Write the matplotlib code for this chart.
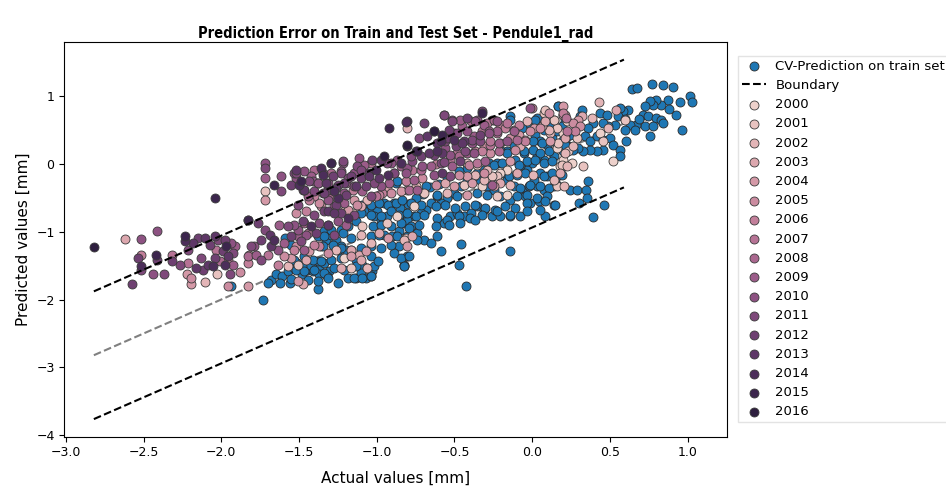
import matplotlib.pyplot as plt
import seaborn as sns

# train set (cross-validated predictions)
train_pts = [
    (-1.94, -1.80), (-1.73, -2.00), (-1.68, -1.71), (-1.65, -1.63), (-1.61, -1.66), (-1.62, -1.76),
    (-1.56, -1.76), (-1.57, -1.58), (-1.53, -1.53), (-1.51, -1.46), (-1.48, -1.63), (-1.45, -1.56),
    (-1.41, -1.58), (-1.37, -1.53), (-1.38, -1.44), (-1.34, -1.46), (-1.31, -1.58), (-1.32, -1.66),
    (-1.37, -1.63), (-1.43, -1.49), (-1.48, -1.51), (-1.38, -1.84), (-1.55, -1.70), (-1.70, -1.75),
    (-1.59, -1.10), (-1.55, -1.20),
    (-1.359, -1.216), (-1.327, -1.118), (-1.295, -1.044), (-1.263, -1.118), (-1.231, -1.216),
    (-1.252, -1.265), (-1.199, -1.265), (-1.167, -1.338), (-1.135, -1.412), (-1.092, -1.485),
    (-1.06, -1.534), (-1.028, -1.583), (-1.017, -1.51), (-1.188, -1.681), (-1.135, -1.681),
    (-1.103, -1.608), (-1.071, -1.681), (-1.039, -1.657), (-1.381, -1.069), (-1.338, -0.995),
    (-1.295, -0.971), (-1.316, -0.897), (-1.092, -0.627), (-1.06, -0.701), (-1.028, -0.652),
    (-0.996, -0.701), (-1.017, -0.774), (-0.975, -0.823), (-0.932, -0.774), (-0.953, -0.578),
    (-0.89, -0.578), (-0.878, -0.284), (-0.825, -0.872), (-0.857, -0.995), (-0.804, -1.069),
    (-0.9, -1.069), (-0.953, -1.044), (-0.857, -1.216), (-0.825, -1.51), (-0.89, -1.314),
    (-1.231, -0.971), (-1.188, -0.922),
    (-0.141, 0.696), (-0.034, 0.598), (0.03, 0.672), (0.073, 0.5), (0.116, 0.598), (0.169, 0.843),
    (0.201, 0.72), (0.212, 0.622), (0.019, 0.426), (0.051, 0.328), (0.094, 0.279), (0.126, 0.377),
    (0.158, 0.255), (0.19, 0.328), (0.222, 0.402), (0.201, 0.181), (0.137, 0.108), (0.073, 0.059),
    (0.03, 0.108), (-0.002, 0.01), (-0.034, -0.088), (-0.077, -0.04), (-0.109, 0.059), (-0.055, 0.157),
    (-0.12, 0.255), (-0.162, 0.181), (-0.205, 0.206), (-0.226, 0.01), (-0.194, -0.138), (-0.162, -0.236),
    (-0.12, -0.334), (-0.066, -0.383), (-0.023, -0.334), (0.03, -0.334), (0.073, -0.383), (0.137, -0.334),
    (0.158, -0.187), (0.094, -0.187), (0.051, -0.138), (0.009, -0.236), (-0.045, -0.48), (-0.013, -0.579),
    (0.041, -0.554), (0.084, -0.775), (0.137, -0.603), (-0.141, -0.53), (-0.205, -0.48), (-0.248, -0.383),
    (-0.29, -0.334), (-0.333, -0.236), (-0.376, -0.187), (-0.419, -0.236), (-0.461, -0.334), (-0.504, -0.432),
    (-0.547, -0.505), (-0.59, -0.579), (-0.611, -0.48), (-0.654, -0.579), (-0.686, -0.677), (-0.718, -0.726),
    (-0.761, -0.775), (-0.803, -0.824), (-0.825, -0.726), (-0.782, -0.922), (-0.739, -1.02), (-0.696, -1.118),
    (-0.654, -1.167), (-0.611, -1.069), (-0.568, -0.873), (-0.526, -0.775), (-0.483, -0.726), (-0.44, -0.775),
    (-0.397, -0.726), (-0.355, -0.628), (-0.312, -0.677), (-0.258, -0.775), (-0.205, -0.775), (-0.141, -0.775),
    (-0.077, -0.775), (-0.461, -1.19), (-0.59, -1.29), (-0.472, -1.485), (-0.429, -1.804), (-0.141, -1.29),
    (-0.825, -1.485), (-0.803, -1.36), (-0.355, -0.138), (-0.312, -0.088), (-0.28, 0.01), (-0.419, -0.064),
    (-0.47, -0.113), (-0.55, -0.2), (-0.6, -0.3), (-0.66, -0.35), (-0.7, -0.45), (-0.75, -0.5),
    (-0.8, -0.6), (-0.85, -0.65),
    (0.645, 1.098), (0.675, 1.112), (0.773, 1.176), (0.841, 1.161), (0.905, 1.127), (1.012, 1.0),
    (1.029, 0.907), (0.965, 0.5), (0.927, 0.72), (0.873, 0.931), (0.831, 0.867), (0.799, 0.931),
    (0.777, 0.867), (0.756, 0.916), (0.724, 0.843), (0.713, 0.72), (0.745, 0.696), (0.799, 0.671),
    (0.831, 0.647), (0.841, 0.598), (0.756, 0.402), (0.724, 0.549), (0.67, 0.573), (0.628, 0.573),
    (0.617, 0.794), (0.585, 0.769), (0.564, 0.818), (0.553, 0.696), (0.596, 0.5), (0.532, 0.573),
    (0.489, 0.549), (0.457, 0.598), (0.435, 0.745), (0.478, 0.72), (0.393, 0.598), (0.361, 0.524),
    (0.318, 0.794), (0.307, 0.696), (0.339, 0.402), (0.371, 0.328), (0.414, 0.402), (0.457, 0.353),
    (0.5, 0.377), (0.521, 0.279), (0.457, 0.206), (0.414, 0.181), (0.371, 0.206), (0.329, 0.181),
    (0.297, 0.23), (0.264, 0.206), (0.232, 0.255), (0.211, 0.353), (0.243, 0.426), (0.286, 0.549),
    (0.606, 0.328), (0.564, 0.206), (0.564, 0.108), (0.205, -0.04), (0.361, -0.26), (0.243, -0.383),
    (0.286, -0.383), (0.346, -0.383), (0.35, -0.505), (0.303, -0.579), (0.461, -0.603), (0.388, -0.785),
    (0.66, 0.5), (0.69, 0.65), (0.78, 0.55), (0.88, 0.8), (0.95, 0.9), (0.60, 0.65),
    # denser middle band
    (-0.867, -0.26), (-0.686, -0.333), (-1.092, -0.603), (-1.038, -0.603), (-0.985, -0.578), (-0.931, -0.603),
    (-0.878, -0.578), (-0.835, -0.529), (-0.782, -0.578), (-0.718, -0.603), (-1.102, -0.725), (-1.038, -0.75),
    (-0.974, -0.774), (-0.91, -0.701), (-0.857, -0.75), (-0.803, -0.725), (-0.75, -0.774), (-0.696, -0.75),
    (-1.134, -0.848), (-1.027, -0.921), (-0.974, -0.897), (-0.91, -0.921), (-0.846, -0.872), (-0.792, -0.946),
    (-0.728, -0.897), (-1.337, -1.069), (-1.22, -1.019), (-1.166, -1.093), (-1.038, -1.069), (-0.985, -1.044),
    (-0.867, -1.069), (-0.739, -1.118), (-1.348, -1.216), (-1.284, -1.191), (-1.23, -1.24), (-1.102, -1.24),
    (-1.038, -1.216), (-0.974, -1.24), (-0.91, -1.191), (-0.846, -1.387), (-0.792, -1.363), (-1.53, -1.412),
    (-1.466, -1.363), (-1.412, -1.412), (-1.359, -1.436), (-1.295, -1.412), (-1.23, -1.387), (-1.038, -1.363),
    (-0.995, -1.436), (-1.519, -1.559), (-1.466, -1.583), (-1.401, -1.559), (-1.337, -1.608), (-1.273, -1.534),
    (-1.209, -1.559), (-1.134, -1.51), (-0.825, -1.51), (-1.444, -1.706), (-1.38, -1.73), (-1.316, -1.681),
    (-1.252, -1.755), (-1.145, -1.681), (-1.092, -1.681), (-1.038, -1.657),
    (0.169, 0.843), (-0.141, 0.647), (0.019, 0.647), (0.19, 0.549), (-0.066, 0.525), (0.158, 0.476),
    (0.211, 0.427), (0.008, 0.329), (0.062, 0.304), (0.211, 0.28), (-0.163, 0.157), (-0.056, 0.182),
    (0.008, 0.206), (0.051, 0.157), (0.105, 0.182), (-0.248, -0.014), (-0.195, 0.01), (-0.088, -0.014),
    (-0.034, 0.035), (0.019, 0.059), (0.073, 0.01), (0.126, 0.035), (-0.152, -0.186), (-0.098, -0.161),
    (-0.045, -0.137), (0.073, -0.186), (0.126, -0.137), (0.19, -0.161), (-0.077, -0.358), (-0.013, -0.309),
    (0.051, -0.333), (0.105, -0.358), (0.158, -0.309), (-0.611, -0.456), (-0.483, -0.48), (-0.355, -0.431),
    (-0.291, -0.456), (-0.098, -0.48), (-0.034, -0.456), (0.03, -0.505), (0.094, -0.48), (-0.622, -0.627),
    (-0.558, -0.603), (-0.494, -0.652), (-0.43, -0.627), (-0.366, -0.603), (-0.301, -0.652), (-0.237, -0.676),
    (-0.173, -0.627), (-0.109, -0.652), (-0.034, -0.578), (0.083, -0.554), (0.147, -0.603), (-0.611, -0.799),
    (-0.547, -0.823), (-0.472, -0.774), (-0.398, -0.799), (-0.323, -0.75), (-0.227, -0.701), (-0.141, -0.75),
    (-0.034, -0.701), (0.051, -0.676), (-0.622, -0.921), (-0.536, -0.897), (-0.462, -0.872), (-0.366, -0.823),
]

years = list(range(2000, 2017))

# test set, per year (actual, predicted)
test_pts = {
    2000: [(-1.21, -1.387), (-0.868, -0.775), (-0.355, -0.015), (-0.162, -0.088), (-0.761, -0.628), (0.2, 0.059),
           (0.254, 0.01), (0.435, 0.451), (0.521, 0.034), (0.137, 0.647), (0.201, 0.451), (0.18, -0.04),
           (-1.156, -0.725), (0.222, 0.623), (0.158, 0.231), (-0.205, -0.137), (-0.323, -0.333), (-0.163, -0.456)],
    2001: [(-2.027, -1.632), (-1.509, -1.485), (-1.167, -1.265), (-1.167, -1.534), (-0.932, -0.872), (-1.722, -0.407),
           (-0.419, 0.01), (-0.226, -0.187), (-0.696, -0.432), (0.286, 0.377), (0.232, 0.181), (0.329, -0.04),
           (0.457, 0.328), (0.596, 0.647), (0.073, 0.745), (0.158, 0.524), (0.158, -0.334),
           (-1.209, -0.701), (-1.092, -0.921), (-0.814, -1.093), (0.083, 0.794), (0.137, 0.647), (0.169, 0.304),
           (0.19, -0.014), (-0.259, -0.186), (-0.44, -0.309), (-0.227, -0.48)],
    2002: [(-2.106, -1.745), (-1.573, -1.51), (-1.263, -1.265), (-1.039, -1.167), (-0.825, -1.118), (-1.06, -0.529),
           (-0.803, 0.524), (-0.29, -0.088), (-0.312, -0.236), (-0.75, -0.334), (0.264, 0.255), (0.222, -0.04),
           (0.382, 0.671), (0.489, 0.524), (0.205, -0.334), (0.431, 0.902), (0.201, 0.72), (0.116, 0.451),
           (0.137, -0.236), (-1.102, -1.044), (-1.06, -1.534), (-0.034, 0.623), (0.105, 0.5), (0.211, 0.157),
           (-0.366, -0.161), (0.008, -0.161), (-0.141, -0.309), (-0.547, -0.431)],
    2003: [(-2.619, -1.108), (-1.455, -1.412), (-1.113, -1.338), (-1.231, -1.534), (-1.477, -1.779), (-0.985, -1.02),
           (-1.103, -0.627), (-0.932, -0.358), (-0.077, 0.255), (-0.098, -0.138), (-0.803, -0.383), (-0.771, -1.069),
           (0.318, 0.696), (0.211, 0.377), (0.542, 0.794), (0.062, 0.549), (0.18, -0.138),
           (-1.166, -1.265), (-1.102, -1.412), (0.083, 0.623), (-0.558, -0.284), (-0.205, -0.284)],
    2004: [(-2.218, -1.632), (-2.192, -1.765), (-1.551, -1.387), (-1.434, -1.289), (-1.071, -1.289), (-1.829, -1.804),
           (-1.188, -0.676), (-1.722, -0.529), (-0.087, 0.426), (-0.248, -0.334), (-0.803, -1.216), (0.2, 0.843),
           (0.297, 0.647), (0.009, 0.524), (-0.846, -0.407), (-1.145, -0.529), (-0.931, -1.093), (-1.166, -1.363),
           (-1.508, -1.73), (0.211, 0.721), (0.115, 0.329), (-0.141, 0.035), (-0.419, -0.186), (-0.504, -0.333),
           (-0.387, -0.284), (-0.419, -0.456)],
    2005: [(-2.192, -1.681), (-1.882, -1.598), (-1.822, -1.338), (-1.957, -1.804), (-1.594, -1.363), (-1.316, -1.314),
           (-1.359, -0.627), (-1.124, -0.603), (-0.312, 0.255), (-0.141, 0.377), (-0.045, 0.353), (0.264, 0.598),
           (0.307, 0.549), (-0.707, -0.211), (-0.91, -0.431), (-1.369, -0.578), (-1.519, -0.725), (-1.519, -1.216),
           (0.105, 0.745), (-0.013, 0.476), (0.051, 0.525), (-0.269, 0.157), (-0.109, 0.206), (-0.472, -0.161),
           (-0.312, -0.137), (-0.622, -0.309)],
    2006: [(-2.517, -1.338), (-1.829, -1.47), (-1.957, -1.412), (-1.53, -1.265), (-1.637, -1.485), (-1.37, -1.216),
           (-1.402, -0.48), (-0.964, -0.431), (-0.205, 0.573), (-0.365, 0.181), (-0.205, 0.304), (-0.12, 0.5),
           (0.0, 0.818), (0.2, 0.745), (0.275, 0.475), (-0.814, -0.26), (-1.156, -0.382), (-0.985, -0.456),
           (-1.433, -0.529), (-1.455, -0.701), (-1.401, -1.191), (-0.259, 0.647), (-0.088, 0.574), (-0.173, 0.525),
           (-0.045, 0.329), (-0.323, 0.182), (-0.622, 0.0), (-0.408, -0.014)],
    2007: [(-2.316, -1.338), (-2.213, -1.46), (-2.032, -1.265), (-1.701, -1.338), (-1.445, -1.02), (-1.348, -0.431),
           (-1.007, -0.48), (-0.29, 0.598), (-0.526, 0.059), (-0.269, 0.279), (-0.162, 0.598), (0.217, 0.671),
           (0.222, 0.475), (-1.038, 0.01), (-0.771, -0.088), (-1.38, -0.284), (-0.323, 0.476), (-0.269, 0.329),
           (-0.483, 0.157), (-0.355, 0.01)],
    2008: [(-2.01, -1.436), (-1.829, -1.363), (-1.466, -0.872), (-1.306, -0.505), (-0.889, -0.137), (-0.397, 0.622),
           (-0.248, 0.647), (-0.718, -0.088), (-0.472, 0.108), (-1.401, -0.088), (-1.295, -0.137), (-0.792, -0.382),
           (-0.227, 0.451), (-0.098, 0.353), (-0.216, 0.182)],
    2009: [(-1.914, -1.216), (-1.925, -1.485), (-1.722, -0.211), (-1.423, -0.186), (-1.445, -0.48), (-1.081, -0.015),
           (-0.846, -0.039), (-1.776, -1.338), (-1.594, -1.167), (-1.626, -0.897), (-0.451, 0.549), (-0.226, 0.475),
           (-0.654, -0.04), (-0.419, 0.157), (-1.198, -0.284), (-0.921, -0.284), (-0.76, -0.235), (-1.092, -0.407),
           (-0.739, -0.382), (-1.209, -0.578), (-1.198, -0.897), (-1.508, -1.069), (-1.466, -1.265), (-0.462, 0.647),
           (-0.312, 0.574), (-0.376, 0.402), (-0.28, 0.476), (-0.12, 0.476), (-0.216, 0.304), (-0.515, -0.039),
           (-0.301, 0.035), (-0.259, -0.309)],
    2010: [(-2.517, -1.103), (-2.416, -0.985), (-2.438, -1.632), (-1.935, -1.167), (-1.829, -0.823), (-1.722, 0.01),
           (-1.616, -0.186), (-1.519, -0.211), (-1.413, -0.26), (-1.22, 0.01), (-1.145, -0.137), (-1.381, -0.284),
           (-1.466, -0.382), (-1.274, -0.627), (-0.868, 0.059), (-1.787, -1.216), (-1.637, -1.265), (-1.509, -0.971),
           (-0.568, 0.72), (-0.355, 0.647), (-0.28, 0.451), (-0.558, 0.23), (-0.803, -0.064), (-1.113, 0.083),
           (-0.91, 0.01), (-1.466, -0.113), (-1.23, -0.113), (-0.814, -0.137), (-0.707, -0.039), (-1.316, -0.284),
           (-0.974, -0.333), (-1.209, -0.431), (-1.316, -0.529), (-1.53, -0.897), (-1.252, -0.848), (-1.455, -1.044),
           (-0.013, 0.819), (-0.515, 0.647), (-0.366, 0.623), (-0.227, 0.623), (-0.419, 0.476), (-0.387, 0.304),
           (-0.163, 0.329), (-0.526, 0.133), (-0.376, 0.157), (-0.633, -0.161)],
    2011: [(-2.367, -1.632), (-2.517, -1.573), (-2.267, -1.485), (-2.213, -1.265), (-2.021, -1.118), (-1.925, -1.314),
           (-2.128, -1.387), (-1.946, -1.632), (-1.812, -1.216), (-1.722, -0.064), (-1.616, -0.407), (-1.53, -0.137),
           (-1.349, -0.137), (-1.231, -0.137), (-1.316, -0.382), (-1.188, -0.211), (-1.124, -0.039), (-0.932, 0.01),
           (-1.145, -0.333), (-1.145, -0.75), (-1.722, -0.971), (-1.744, -1.412), (-1.573, -0.922), (-1.487, -1.142),
           (-0.515, 0.622), (-0.728, 0.377), (-0.504, 0.451), (-0.387, 0.353), (-0.771, 0.034), (-0.59, 0.01),
           (-1.22, 0.034), (-0.953, 0.059), (-0.782, 0.108), (-1.519, -0.137), (-1.102, -0.088), (-0.889, -0.137),
           (-1.433, -0.26), (-1.017, -0.284), (-1.401, -0.407), (-1.038, -0.48), (-1.508, -0.603), (-1.401, -0.75),
           (-1.369, -0.872), (-1.273, -1.044), (-0.323, 0.77), (-0.569, 0.721), (-0.483, 0.451), (-0.558, 0.329),
           (-0.333, 0.329), (-0.43, 0.182), (-0.569, 0.02), (-0.526, -0.186)],
    2012: [(-2.538, -1.387), (-2.416, -1.421), (-2.576, -1.765), (-2.316, -1.436), (-2.149, -1.093), (-2.074, -1.191),
           (-1.978, -1.118), (-1.989, -1.289), (-2.042, -1.387), (-2.117, -1.559), (-1.551, -0.309), (-1.477, -0.382),
           (-1.284, -0.186), (-1.21, -0.284), (-1.028, 0.059), (-1.103, -0.211), (-1.199, -0.456), (-1.231, -0.725),
           (-1.765, -0.872), (-1.744, -1.118), (-1.551, -1.069), (-0.696, 0.598), (-0.547, 0.377), (-0.333, 0.426),
           (-0.493, 0.255), (-0.718, 0.108), (-1.166, -0.186), (-1.049, -0.137), (-1.252, -0.309), (-1.07, -0.333),
           (-1.337, -0.431), (-1.263, -0.603), (-1.337, -0.701), (-1.476, -0.848), (-1.391, -1.019), (-0.419, 0.672),
           (-0.536, 0.5), (-0.633, 0.133), (-0.462, 0.035)],
    2013: [(-2.181, -1.167), (-2.106, -1.093), (-2.042, -1.069), (-1.957, -1.363), (-2.085, -1.485), (-2.16, -1.534),
           (-1.327, -0.284), (-1.263, -0.358), (-0.975, 0.059), (-1.049, -0.186), (-1.316, -0.701), (-1.69, -1.044),
           (-1.68, -1.216), (-1.52, -0.088), (-0.675, 0.402), (-0.44, 0.328), (-0.664, 0.157), (-0.985, -0.211),
           (-1.134, -0.333), (-1.466, -0.382), (-1.273, -0.725), (-1.316, -0.897), (-0.611, 0.304), (-0.451, 0.304),
           (-0.579, 0.157), (-0.579, -0.137)],
    2014: [(-2.517, -1.5), (-2.235, -1.142), (-2.053, -1.51), (-1.978, -1.485), (-1.498, -0.309), (-1.359, -0.064),
           (-1.007, -0.088), (-1.252, -0.505), (-1.188, -0.799), (-1.658, -1.118), (-0.803, 0.622), (-0.59, 0.328),
           (-0.611, 0.181), (-0.81, 0.613), (-1.295, 0.01), (-0.846, 0.01), (-1.348, -0.162), (-0.931, -0.162),
           (-1.273, -0.407), (-1.423, -0.921), (-0.633, 0.476), (-0.504, 0.353)],
    2015: [(-2.038, -0.51), (-2.423, -1.338), (-2.235, -1.069), (-1.967, -1.216), (-1.658, -0.309), (-1.295, 0.01),
           (-0.804, 0.255), (-1.829, -0.823), (-0.322, 0.745), (-0.75, 0.181), (-0.921, 0.525), (-0.739, 0.181),
           (-1.487, -0.26), (-0.579, 0.427)],
    2016: [(-2.816, -1.225), (-0.953, 0.108), (-0.632, 0.475), (-0.803, 0.279)],
}

# identity line and +/- boundary
line_x = [-2.82, 0.59]
boundary = 0.94

fig = plt.figure(figsize=(9.46, 4.88), dpi=100)
ax = fig.add_axes([0.068, 0.105, 0.7, 0.809])

palette = sns.cubehelix_palette(n_colors=len(years))

tx = [p[0] for p in train_pts]
ty = [p[1] for p in train_pts]
ax.scatter(tx, ty, s=42, color='#1f77b4', edgecolors='#2a2a2a', linewidths=0.6,
           label='CV-Prediction on train set', zorder=2)

ax.plot(line_x, line_x, '--', color='gray', lw=1.5, zorder=1.5)
ax.plot(line_x, [v + boundary for v in line_x], '--', color='black', lw=1.5, zorder=3, label='Boundary')
ax.plot(line_x, [v - boundary for v in line_x], '--', color='black', lw=1.5, zorder=3)

for i, yr in enumerate(years):
    px = [p[0] for p in test_pts[yr]]
    py = [p[1] for p in test_pts[yr]]
    ax.scatter(px, py, s=42, color=palette[i], edgecolors='#3a3a3a', linewidths=0.6,
               label=str(yr), zorder=2)

ax.set_xlim(-3.01, 1.25)
ax.set_ylim(-4.02, 1.79)
ax.set_xticks([-3.0, -2.5, -2.0, -1.5, -1.0, -0.5, 0.0, 0.5, 1.0])
ax.set_yticks([-4, -3, -2, -1, 0, 1])
ax.tick_params(labelsize=9)
ax.set_xlabel('Actual values [mm]', fontsize=11, labelpad=8)
ax.set_ylabel('Predicted values [mm]', fontsize=11)
ax.set_title('Prediction Error on Train and Test Set - Pendule1_rad', fontsize=10.5,
             fontweight='bold', fontstretch='condensed', pad=3)

ax.legend(loc='upper left', bbox_to_anchor=(1.018, 0.965), fontsize=9.5, labelspacing=0.47,
          borderaxespad=0.0, borderpad=0.3, handlelength=1.8, handletextpad=0.7,
          frameon=True, fancybox=False, edgecolor='#dddddd')

fig.savefig('out.png', dpi=100)
